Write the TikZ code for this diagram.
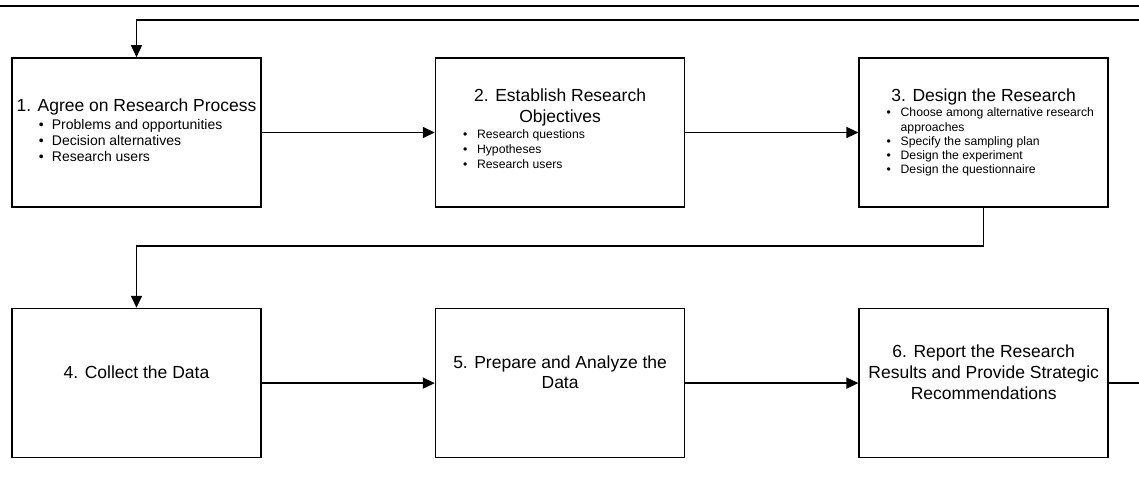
\documentclass[tikz,border=0pt]{standalone}
\usepackage{fontspec}
\setmainfont{Liberation Sans}
\usetikzlibrary{positioning,calc,arrows.meta}
\tikzset{
  stepbox/.style={rectangle, draw=black, line width=1.6pt, minimum width=249pt, minimum height=149pt, inner sep=0pt},
  connect/.style={-{Triangle[length=12pt,width=11pt]}, line width=1.5pt},
  plain/.style={line width=1.5pt},
  heading/.style={anchor=base, inner sep=0pt, font=\fontsize{17.5}{20.5}\selectfont},
  points/.style={anchor=base west, inner sep=0pt}
}
\newcommand{\heads}[1]{\begin{tabular}[t]{@{}c@{}}#1\end{tabular}}
\newcommand{\bulletlist}[2]{\begin{tabular}[t]{@{}l@{\hspace{#1}}l@{}}#2\end{tabular}}

\begin{document}
\begin{tikzpicture}[x=1pt, y=-1pt]
	\useasboundingbox (0,0) rectangle (1139,486);
	% boxes
	\node[stepbox] (b1) at (136.5,132.5) {};
	\node[stepbox] (b2) [right=173pt of b1] {};
	\node[stepbox] (b3) [right=173pt of b2] {};
	\node[stepbox] (b4) [below=100pt of b1] {};
	\node[stepbox] (b5) [right=173pt of b4] {};
	\node[stepbox] (b6) [right=173pt of b5] {};

	% texts
	\node[heading] (h1) at ($(b1.north)+(0,54.5)$) {1. Agree on Research Process};
	\node[points, font=\fontsize{14}{16.3}\selectfont] (p1) at ($(b1.north west)+(27.5,72)$)
		{\bulletlist{8.1pt}{\textbullet & Problems and opportunities\\ \textbullet & Decision alternatives\\ \textbullet & Research users}};

	\node[heading] (h2) at ($(b2.north)+(0,44.7)$) {\heads{2. Establish Research\\ Objectives}};
	\node[points, font=\fontsize{12.2}{15}\selectfont] (p2) at ($(b2.north west)+(28,81)$)
		{\bulletlist{9.8pt}{\textbullet & Research questions\\ \textbullet & Hypotheses\\ \textbullet & Research users}};

	\node[heading] (h3) at ($(b3.north)+(0,44.7)$) {3. Design the Research};
	\node[points, font=\fontsize{12.2}{14.2}\selectfont] (p3) at ($(b3.north west)+(28,59.7)$)
		{\bulletlist{9.8pt}{\textbullet & Choose among alternative research\\ & approaches\\ \textbullet & Specify the sampling plan\\ \textbullet & Design the experiment\\ \textbullet & Design the questionnaire}};

	\node[heading] (h4) at ($(b4.north)+(0,71)$) {4. Collect the Data};
	\node[heading, font=\fontsize{17.5}{20}\selectfont] (h5) at ($(b5.north)+(0,60.3)$) {\heads{5. Prepare and Analyze the\\ Data}};
	\node[heading, font=\fontsize{17.5}{20.8}\selectfont] (h6) at ($(b6.north)+(0,49.7)$) {\heads{6. Report the Research\\ Results and Provide Strategic\\ Recommendations}};

	% loose ends at the right margin
	\coordinate (ruleL) at (0,6);
	\coordinate (ruleR) at (1139,6);
	\coordinate (loopin) at (1139,20);
	\coordinate (loopout) at (1139,382);

	\draw[line width=2pt] (ruleL) -- (ruleR);
	\draw[connect] (loopin) -- (b1.north |- loopin) -- (b1.north);
	\path (b1) edge [connect] (b2);
	\path (b2) edge [connect] (b3);
	\draw[connect] (b3.south) -- ++(0,38) -| (b4.north);
	\path (b4) edge [connect] (b5);
	\path (b5) edge [connect] (b6);
	\draw[plain] (b6.east) -- (b6.east -| loopout);
\end{tikzpicture}
\end{document}
